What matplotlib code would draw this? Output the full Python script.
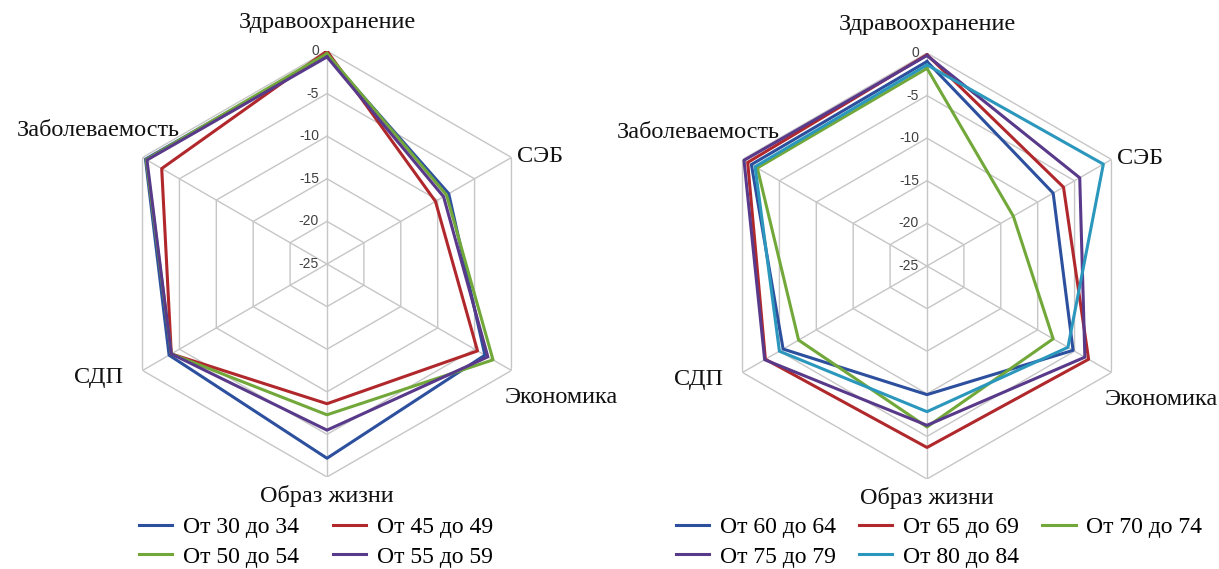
import numpy as np
import matplotlib
matplotlib.use("Agg")
import matplotlib.pyplot as plt
from matplotlib.lines import Line2D

plt.rcParams['font.family'] = ['Liberation Serif', 'DejaVu Serif']

# axes, clockwise from the top
CATS = ["Здравоохранение", "СЭБ", "Экономика", "Образ жизни", "СДП", "Заболеваемость"]
TICKS = [0, -5, -10, -15, -20, -25]

# left chart: younger age groups
LEFT_NAMES = ["От 30 до 34", "От 45 до 49", "От 50 до 54", "От 55 до 59"]
LEFT_VALS = [
    [-0.5, -8.5, -3.6, -2.2, -3.6, -0.4],
    [0.0, -10.3, -4.6, -8.6, -3.9, -2.6],
    [-0.3, -8.8, -2.5, -7.3, -3.9, -0.5],
    [-0.7, -9.2, -3.2, -5.5, -3.9, -0.6],
]
# right chart: older age groups
RIGHT_NAMES = ["От 60 до 64", "От 65 до 69", "От 70 до 74", "От 75 до 79", "От 80 до 84"]
RIGHT_VALS = [
    [-1.0, -7.9, -5.2, -9.9, -5.5, -1.2],
    [-0.2, -6.5, -3.1, -3.7, -3.1, -0.7],
    [-1.8, -13.3, -7.9, -6.1, -7.6, -2.0],
    [-0.3, -4.3, -3.6, -6.3, -3.0, -0.2],
    [-1.4, -1.1, -5.9, -7.9, -5.0, -1.7],
]

BLUE = "#2c4f9e"; RED = "#b0282c"; GREEN = "#72a83a"; PURPLE = "#58398a"; CYAN = "#2b97bd"
LEFT_COLORS = [BLUE, RED, GREEN, PURPLE]
RIGHT_COLORS = [BLUE, RED, GREEN, PURPLE, CYAN]
GRID = "#c6c6c6"

ANG = np.arange(6) * np.pi / 3
ANG_C = np.append(ANG, ANG[0])

# label offsets in pixels from the outer vertex: (dx, dy, ha)
LBL = {
    "Здравоохранение": (0, 28, "center"),
    "СЭБ": (6, 1, "left"),
    "Экономика": (-7, -27, "left"),
    "Образ жизни": (0, -19, "center"),
    "СДП": (-20, -7, "right"),
    "Заболеваемость": (37, 27, "right"),
}
FS_CAT = 17.5
FS_LEG = 17

fig = plt.figure(figsize=(12.19, 5.69), dpi=100)


def radar(rect, vals, colors):
    ax = fig.add_axes(rect, projection="polar")
    ax.set_theta_offset(np.pi / 2)
    ax.set_theta_direction(-1)
    ax.set_ylim(-25, 0)
    ax.grid(False)
    ax.spines["polar"].set_visible(False)
    ax.set_xticks([]); ax.set_yticks([])
    ax.patch.set_alpha(0)
    for t in TICKS[:-1]:
        ax.plot(ANG_C, [t] * 7, color=GRID, lw=1.0, zorder=1)
    for a in ANG:
        ax.plot([a, a], [-25, 0], color=GRID, lw=1.0, zorder=1)
    for t in TICKS:
        ax.annotate(str(t), xy=(0, t), xytext=(-8, 0), textcoords="offset pixels",
                    ha="right", va="center", fontsize=10, color="#404040",
                    family="Liberation Sans", zorder=3)
    for name, a in zip(CATS, ANG):
        dx, dy, ha = LBL[name]
        ax.annotate(name, xy=(a, 0), xytext=(dx, dy), textcoords="offset pixels",
                    ha=ha, va="center", fontsize=FS_CAT, color="#111111", annotation_clip=False)
    for v, c in zip(vals, colors):
        ax.plot(ANG_C, v + v[:1], color=c, lw=2.2, zorder=4)
    return ax


axL = radar([0.0935, 0.1617, 0.3495, 0.7487], LEFT_VALS, LEFT_COLORS)
axR = radar([0.5857, 0.1582, 0.3495, 0.7487], RIGHT_VALS, RIGHT_COLORS)

def handles(colors):
    return [Line2D([0], [0], color=c, lw=2.2) for c in colors]

LEG_KW = dict(loc="center", frameon=False, fontsize=FS_LEG, handlelength=1.4,
              handletextpad=0.45, labelspacing=0.35, borderpad=0)

hl = handles(LEFT_COLORS)
order = [0, 2, 1, 3]
fig.legend([hl[i] for i in order], [LEFT_NAMES[i] for i in order], ncol=2,
           bbox_to_anchor=(316 / 1219, 1 - 542 / 569), columnspacing=1.45, **LEG_KW)
hr = handles(RIGHT_COLORS)
order = [0, 3, 1, 4, 2]
fig.legend([hr[i] for i in order], [RIGHT_NAMES[i] for i in order], ncol=3,
           bbox_to_anchor=(939 / 1219, 1 - 542 / 569), columnspacing=1.0, **LEG_KW)

fig.savefig("out.png", dpi=100, facecolor="white")
